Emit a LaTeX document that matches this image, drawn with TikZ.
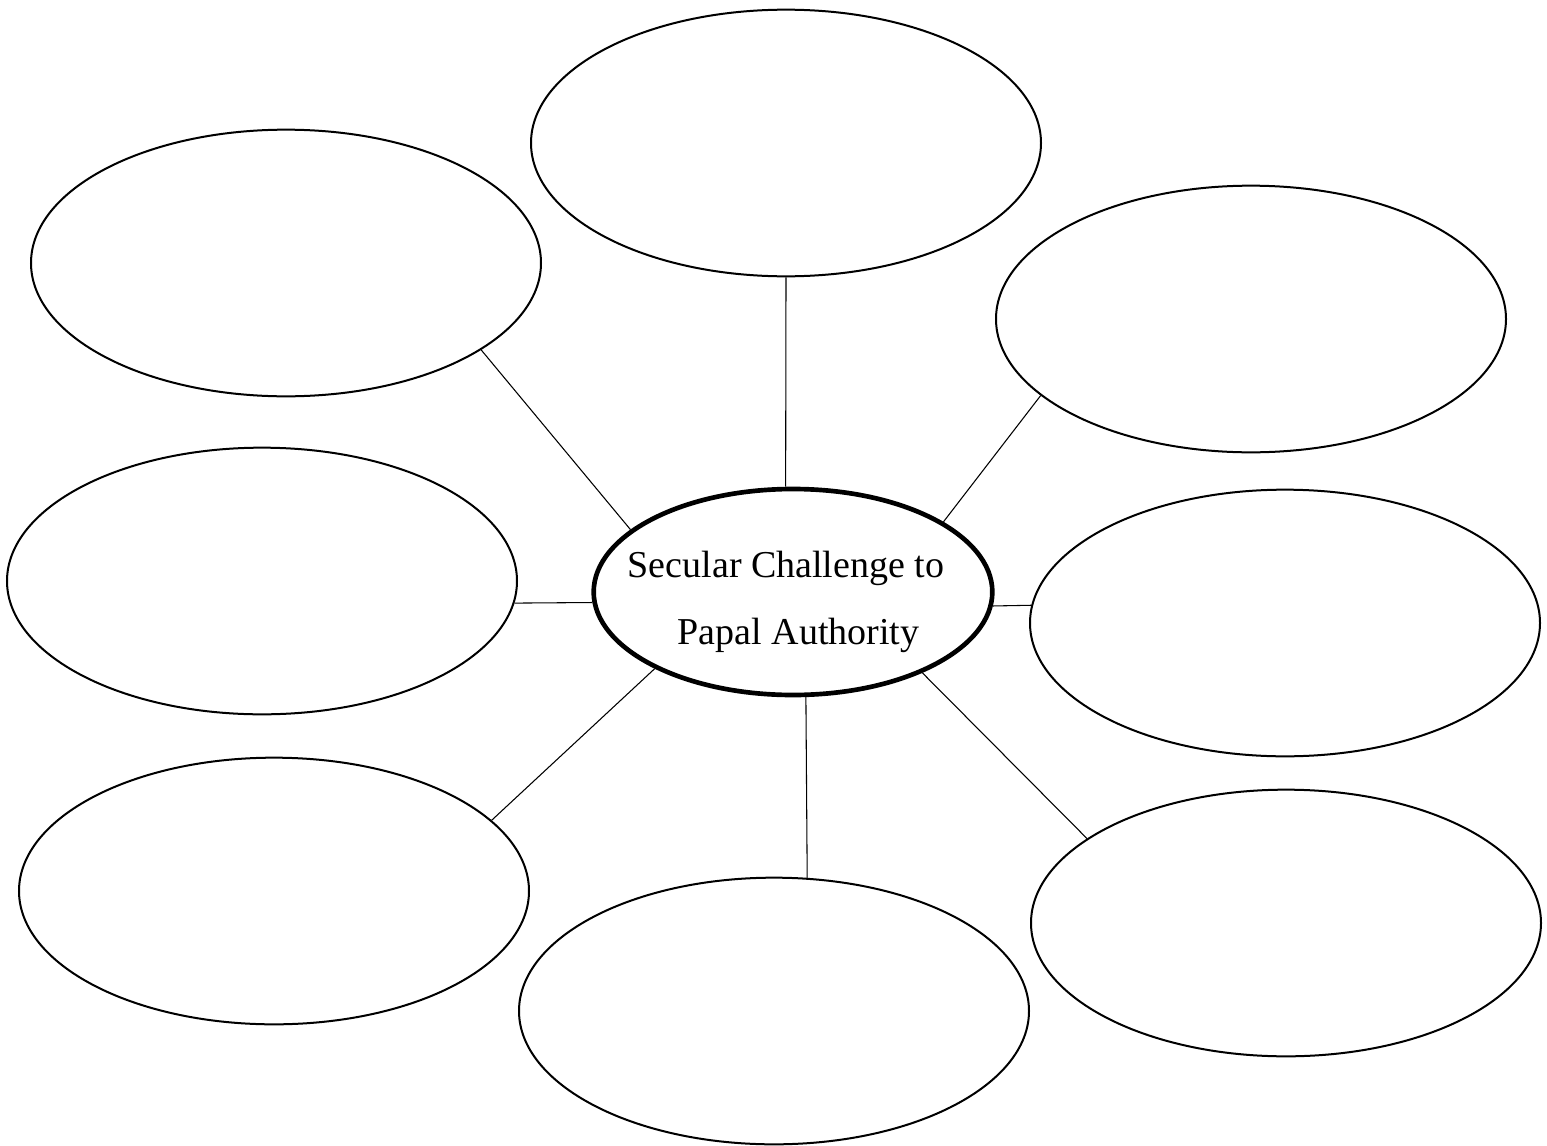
\documentclass[tikz,border=0pt]{standalone}
\usepackage{fontspec}
\setmainfont{Liberation Serif}
\usetikzlibrary{shapes.geometric}
\tikzset{every picture/.style={line width=0.75pt}}
\tikzset{
  bubble/.style={draw, ellipse, line width=1.5pt, inner sep=0pt,
    minimum width=382.5pt, minimum height=200pt},
  hubble/.style={draw, ellipse, line width=3.5pt, inner sep=0pt,
    minimum width=299pt, minimum height=154.5pt},
  hubtext/.style={font=\fontsize{28.5}{50}\selectfont, align=left, inner sep=0pt},
  spoke/.style={line width=0.8pt}
}

\begin{document}
\begin{tikzpicture}[x=0.75pt,y=0.75pt,yscale=-1,xscale=1]
\useasboundingbox (0,0) rectangle (1547,1146);

%Shape: Ellipse (centre)
\node [hubble, label={[hubtext]center:\rule{0pt}{35pt}Secular Challenge to\hspace*{10.5pt}\\\hspace*{37.5pt}Papal Authority}] (hub) at (793,592) {};

%Shape: Ellipse (outer ring)
\node [bubble] (top) at (786,143) {};
\node [bubble] (topleft) at (286,263) {};
\node [bubble] (topright) at (1251,319) {};
\node [bubble] (left) at (262,581) {};
\node [bubble] (right) at (1285,623) {};
\node [bubble] (botleft) at (274,891) {};
\node [bubble] (bottom) at (774,1011) {};
\node [bubble] (botright) at (1286,923) {};

%Straight Lines
\draw [spoke] (hub.94) -- (top.south);
\draw [spoke] (hub.159) -- (topleft.336);
\draw [spoke] (hub.25.6) -- (topright.200.7);
\draw [spoke] (hub.183.7) -- (left.-5.4);
\draw [spoke] (hub.-4.8) -- (right.176.2);
\draw [spoke] (hub.209.5) -- (botleft.18.9);
\draw [spoke] (hub.277) -- (bottom.76.6);
\draw [spoke] (hub.328.8) -- (botright.157.5);

\end{tikzpicture}
\end{document}
